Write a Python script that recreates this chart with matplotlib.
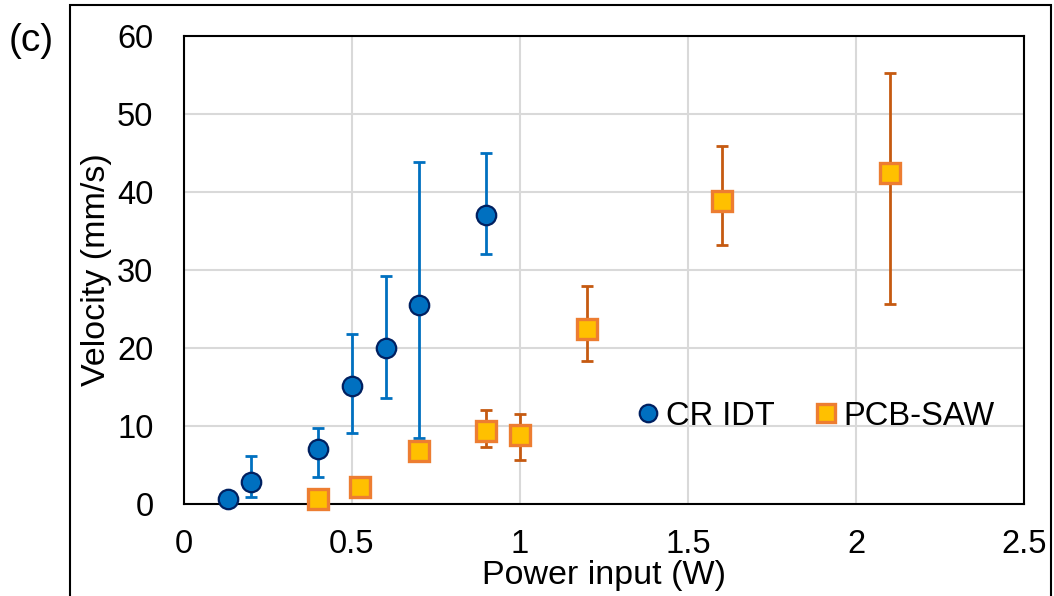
import matplotlib.pyplot as plt
from matplotlib.patches import Rectangle

plt.rcParams['font.family'] = ['Liberation Sans', 'DejaVu Sans']

# CR IDT
cr_power = [0.13, 0.2, 0.4, 0.5, 0.6, 0.7, 0.9]
cr_vel = [0.6, 2.8, 7.05, 15.1, 20.0, 25.5, 37.0]
cr_up = [0.6, 6.15, 9.8, 21.75, 29.2, 43.8, 45.0]
cr_low = [0.6, 0.85, 3.5, 9.15, 13.6, 8.4, 32.1]

# PCB-SAW
pcb_power = [0.4, 0.525, 0.7, 0.9, 1.0, 1.2, 1.6, 2.1]
pcb_vel = [0.6, 2.2, 6.75, 9.35, 8.9, 22.4, 38.85, 42.5]
pcb_up = [0.6, 2.2, 6.75, 12.1, 11.6, 27.95, 45.9, 55.25]
pcb_low = [0.6, 2.2, 6.75, 7.35, 5.65, 18.3, 33.25, 25.6]

x_ticks = [0, 0.5, 1, 1.5, 2, 2.5]
x_labels = ['0', '0.5', '1', '1.5', '2', '2.5']
y_ticks = [0, 10, 20, 30, 40, 50, 60]

fig = plt.figure(figsize=(10.54, 5.96), dpi=100)
ax = fig.add_axes([184 / 1054, 1 - 504 / 596, 840 / 1054, 468 / 596])

cr_err = [[v - l for v, l in zip(cr_vel, cr_low)], [u - v for v, u in zip(cr_vel, cr_up)]]
pcb_err = [[v - l for v, l in zip(pcb_vel, pcb_low)], [u - v for v, u in zip(pcb_vel, pcb_up)]]

ax.errorbar(cr_power, cr_vel, yerr=cr_err, fmt='none', ecolor='#0070C0',
            elinewidth=2, capsize=4.3, capthick=2, zorder=3)
ax.errorbar(pcb_power, pcb_vel, yerr=pcb_err, fmt='none', ecolor='#C55A11',
            elinewidth=2, capsize=4.3, capthick=2, zorder=3)
ax.plot(cr_power, cr_vel, 'o', ms=14, mfc='#0070C0', mec='#002060', mew=1.6,
        ls='none', label='CR IDT', zorder=4, clip_on=False)
ax.plot(pcb_power, pcb_vel, 's', ms=15, mfc='#FFC000', mec='#ED7D31', mew=2.4,
        ls='none', label='PCB-SAW', zorder=4, clip_on=False)

ax.set_xlim(0, 2.5)
ax.set_ylim(0, 60)
ax.set_xticks(x_ticks)
ax.set_xticklabels(x_labels)
ax.set_yticks(y_ticks)
ax.tick_params(length=0, labelsize=23.5)
ax.tick_params(axis='x', pad=18)
ax.tick_params(axis='y', pad=22)
ax.grid(True, color='#D9D9D9', lw=1.5)
ax.set_axisbelow(True)
for s in ax.spines.values():
    s.set_color('black')
    s.set_linewidth(1.5)

ax.set_xlabel('Power input (W)', fontsize=24.5, labelpad=0)
ax.set_ylabel('Velocity (mm/s)', fontsize=24.5, labelpad=4)

ax.legend(loc='lower right', bbox_to_anchor=(1.0, 0.092), ncol=2, frameon=False,
          fontsize=23.5, handlelength=0.8, handletextpad=0.15, columnspacing=1.15,
          markerscale=0.9)

fig.text(9 / 1054, 1 - 41 / 596, '(c)', fontsize=28, va='center', ha='left')
fig.add_artist(Rectangle((70 / 1054, -0.1), (1051 - 70) / 1054, 1.1 - 5 / 596,
                         transform=fig.transFigure, fill=False, ec='black', lw=1.5))

fig.savefig('out.png', dpi=100)
